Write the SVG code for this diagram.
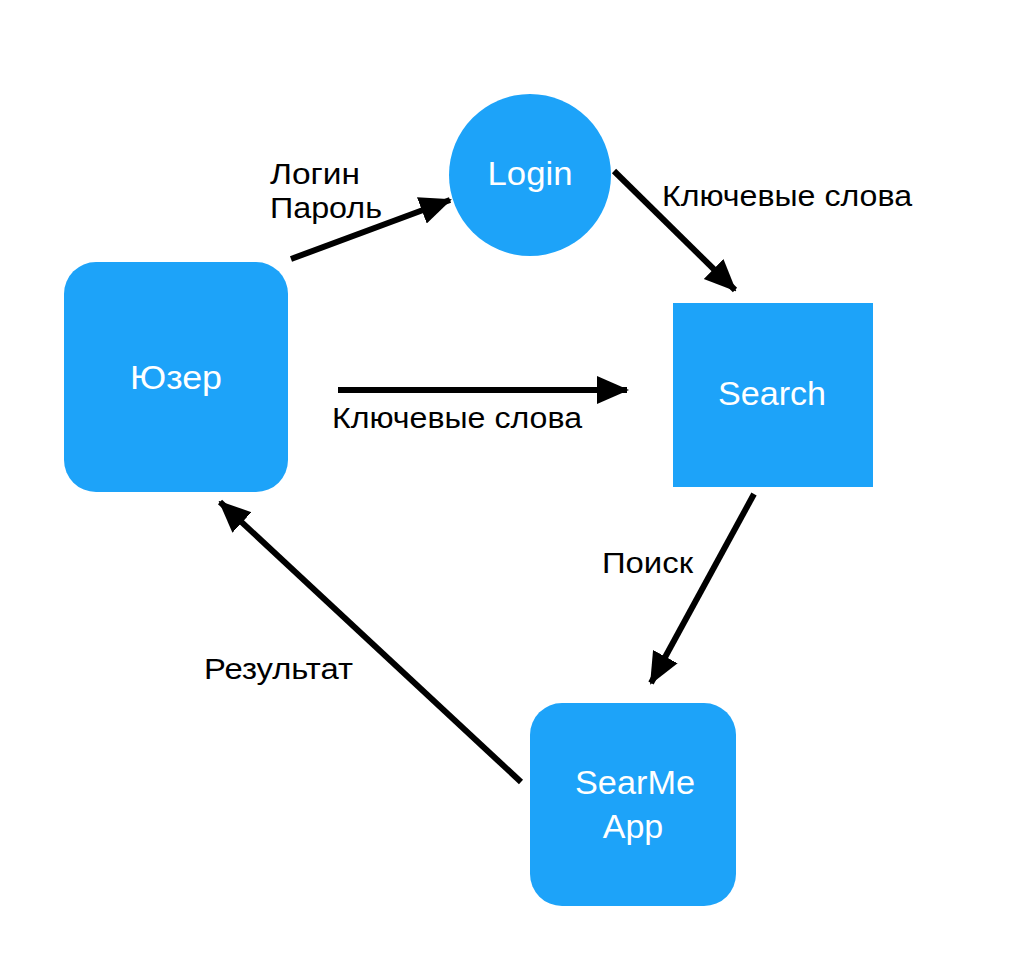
<svg xmlns="http://www.w3.org/2000/svg" width="1028" height="962" viewBox="0 0 1028 962">
<style>
.node{fill:#1DA3F9}
.nl{font-family:"Liberation Sans",Arial,sans-serif;font-size:34px;fill:#fff;text-anchor:middle}
.el{font-family:"Liberation Sans",Arial,sans-serif;font-size:29px;fill:#000}
.edge{stroke:#000;stroke-width:6;fill:none;marker-end:url(#ah)}
</style>
<defs>
<marker id="ah" markerUnits="userSpaceOnUse" markerWidth="32" markerHeight="32" viewBox="0 0 32 32" refX="30" refY="16" orient="auto">
<path d="M0,2 L32,16 L0,30 Z" fill="#000"/>
</marker>
</defs>
<rect width="1028" height="962" fill="#fff"/>
<g id="connectors">
<line class="edge" x1="291" y1="259" x2="450" y2="200"/>
<line class="edge" x1="614" y1="171" x2="735" y2="290"/>
<line class="edge" x1="338" y1="390" x2="627" y2="390"/>
<line class="edge" x1="754" y1="494" x2="651" y2="683"/>
<line class="edge" x1="521" y1="782" x2="220" y2="502"/>
<text class="el" x="270" y="184" textLength="90" lengthAdjust="spacingAndGlyphs">Логин</text>
<text class="el" x="270" y="218" textLength="112" lengthAdjust="spacingAndGlyphs">Пароль</text>
<text class="el" x="662" y="206" textLength="250" lengthAdjust="spacingAndGlyphs">Ключевые слова</text>
<text class="el" x="332" y="428" textLength="250" lengthAdjust="spacingAndGlyphs">Ключевые слова</text>
<text class="el" x="602" y="573" textLength="91" lengthAdjust="spacingAndGlyphs">Поиск</text>
<text class="el" x="204" y="679" textLength="149" lengthAdjust="spacingAndGlyphs">Результат</text>
</g>
<g id="user">
<rect class="node" x="64" y="262" width="224" height="230" rx="32"/>
<text class="nl" x="176" y="389" textLength="92" lengthAdjust="spacingAndGlyphs">Юзер</text>
</g>
<g id="login">
<circle class="node" cx="530" cy="175" r="81"/>
<text class="nl" x="530" y="185" textLength="85" lengthAdjust="spacingAndGlyphs">Login</text>
</g>
<g id="search">
<rect class="node" x="673" y="303" width="200" height="184"/>
<text class="nl" x="772" y="405" textLength="108" lengthAdjust="spacingAndGlyphs">Search</text>
</g>
<g id="searme">
<rect class="node" x="530" y="703" width="206" height="203" rx="32"/>
<text class="nl" x="635" y="794" textLength="120" lengthAdjust="spacingAndGlyphs">SearMe</text>
<text class="nl" x="633" y="838">App</text>
</g>
</svg>
